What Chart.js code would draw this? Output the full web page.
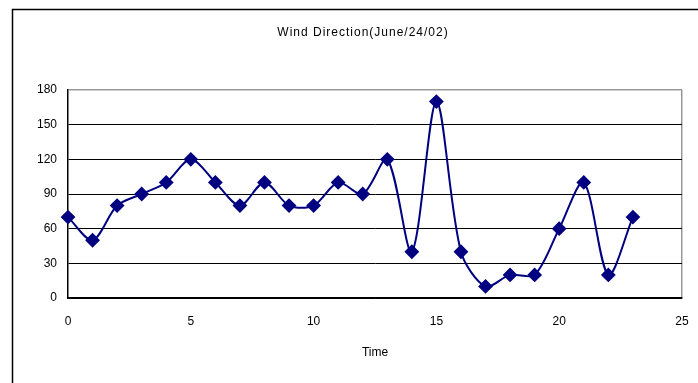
<!DOCTYPE html>
<html>
<head>
<meta charset="utf-8">
<script src="https://cdn.jsdelivr.net/npm/chart.js@4/dist/chart.umd.min.js"></script>
<style>
  html, body { margin: 0; padding: 0; background: #fff; }
  #wrap { width: 698px; height: 383px; }
</style>
</head>
<body>
<div id="wrap"><canvas id="windChart" width="698" height="383"></canvas></div>
<script>
// data
const hours = [0, 1, 2, 3, 4, 5, 6, 7, 8, 9, 10, 11, 12, 13, 14, 15, 16, 17, 18, 19, 20, 21, 22, 23];
const direction = [70, 50, 80, 90, 100, 120, 100, 80, 100, 80, 80, 100, 90, 120, 40, 170, 40, 10, 20, 20, 60, 100, 20, 70];
const xTicks = [0, 5, 10, 15, 20, 25];
const yTicks = [0, 30, 60, 90, 120, 150, 180];

const chartTitle = 'Wind Direction(June/24/02)';
const navy = '#000080';
const fontName = '"Liberation Sans", Arial, sans-serif';

// outer frame and the title
const framePlugin = {
    id: 'frame',
    beforeDraw(chart) {
        const c = chart.ctx;
        c.save();
        c.fillStyle = '#fff';
        c.fillRect(0, 0, chart.width, chart.height);
        c.strokeStyle = '#000';
        c.lineWidth = 1.5;
        c.strokeRect(12.5, 9.5, 900, 600);
        c.restore();
    },
    afterDraw(chart) {
        const c = chart.ctx;
        c.save();
        c.fillStyle = '#000';
        c.font = '12px ' + fontName;
        c.letterSpacing = '1px';
        c.textAlign = 'center';
        c.textBaseline = 'middle';
        c.fillText(chartTitle, 363, 33);
        c.restore();
    }
};

const ctx = document.getElementById('windChart').getContext('2d');
const windChart = new Chart(ctx, {
    type: 'scatter',
    data: {
        datasets: [{
            label: 'Wind Direction',
            data: hours.map((h, i) => ({ x: h, y: direction[i] })),
            showLine: true,
            borderColor: navy,
            backgroundColor: navy,
            borderWidth: 2,
            tension: 0.3,
            pointStyle: 'rectRot',
            pointRadius: 6,
            pointHoverRadius: 6,
            clip: false
        }]
    },
    options: {
        responsive: false,
        animation: false,
        layout: { padding: { top: 90, right: 16, left: 0, bottom: 0 } },
        plugins: {
            legend: { display: false },
            tooltip: { enabled: false },
            title: { display: false }
        },
        scales: {
            x: {
                type: 'linear',
                min: 0,
                max: 25,
                afterBuildTicks: (scale) => { scale.ticks = xTicks.map(v => ({ value: v })); },
                afterFit: (scale) => {
                    scale.height = 85;
                    scale.paddingLeft = 0;
                    scale.paddingRight = 0;
                },
                ticks: { color: '#000', font: { family: fontName, size: 12 }, padding: 16, maxRotation: 0 },
                grid: {
                    drawTicks: false,
                    color: (c) => (c.tick && c.tick.value === 25) ? '#999' : 'rgba(0,0,0,0)',
                    lineWidth: 1.5
                },
                border: { color: '#000', width: 1.5 },
                title: {
                    display: true,
                    text: 'Time',
                    color: '#000',
                    font: { family: fontName, size: 12 },
                    padding: { top: 0, bottom: 23 }
                }
            },
            y: {
                min: 0,
                max: 180,
                afterBuildTicks: (scale) => { scale.ticks = yTicks.map(v => ({ value: v })); },
                afterFit: (scale) => { scale.width = 68; },
                ticks: { color: '#000', font: { family: fontName, size: 12 }, padding: 11 },
                grid: {
                    drawTicks: false,
                    color: (c) => (c.tick && c.tick.value === 180) ? '#999' : '#000',
                    lineWidth: (c) => (c.tick && c.tick.value === 180) ? 1.5 : 1
                },
                border: { color: '#000', width: 1.5 }
            }
        }
    },
    plugins: [framePlugin]
});
</script>
</body>
</html>
